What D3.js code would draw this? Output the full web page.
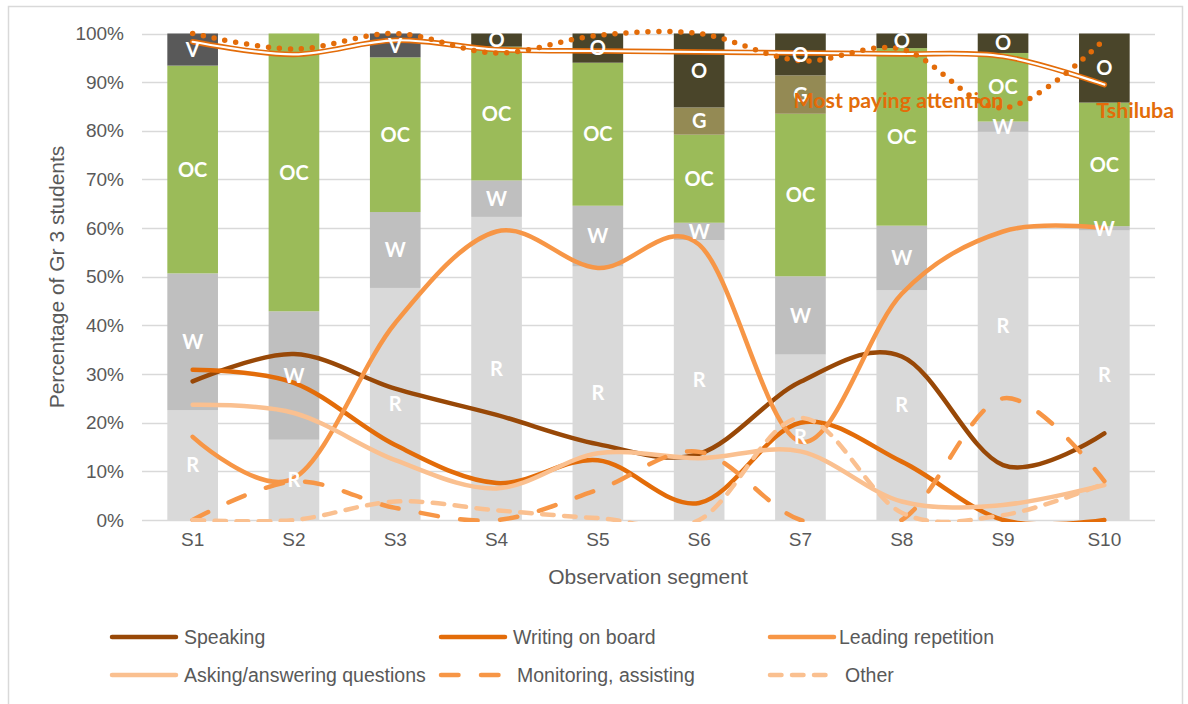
<!DOCTYPE html>
<html>
<head>
<meta charset="utf-8">
<script src="https://cdn.jsdelivr.net/npm/d3@7"></script>
<style>
  html, body { margin: 0; padding: 0; background: #fff; }
  svg { display: block; }
</style>
</head>
<body>
<svg id="chart" width="1188" height="704"></svg>
<script>
// Observation segments
const segments = ["S1", "S2", "S3", "S4", "S5", "S6", "S7", "S8", "S9", "S10"];

// Stacked bar shares (% of Gr 3 students), bottom to top
const stackKeys = ["R", "W", "OC", "G", "O", "V"];
const pctR  = [22.6, 16.5, 47.7, 62.3, 52.1, 57.5, 34.0, 47.2, 79.8, 59.5];
const pctW  = [28.1, 26.4, 15.6,  7.5, 12.5,  3.6, 16.1, 13.3,  2.1,  0.9];
const pctOC = [42.7, 57.1, 31.8, 27.5, 29.4, 18.1, 33.4, 36.5, 14.1, 25.4];
const pctG  = [ 0,    0,    0,    0,    0,    5.6,  7.9,  0,    0,    0  ];
const pctO  = [ 0,    0,    0,    2.7,  6.0, 15.2,  8.6,  3.0,  4.0, 14.2];
const pctV  = [ 6.6,  0,    4.9,  0,    0,    0,    0,    0,    0,    0  ];

// Teacher activity lines (%)
const speaking    = [28.5, 34.1, 27.0, 21.6, 15.6, 13.6, 28.4, 33.6, 11.3, 17.8];
const writing     = [30.9, 28.2, 15.4,  7.6, 12.3,  3.5, 20.0, 12.0,  0.0,  0.0];
const leading     = [17.1,  8.6, 40.5, 59.3, 51.8, 56.6, 16.1, 46.5, 59.3, 60.0];
const asking      = [23.7, 22.0, 12.3,  6.5, 13.7, 12.7, 14.1,  3.8,  3.1,  7.2];
const monitoring  = [ 0.0,  7.9,  2.5,  0.0,  6.2, 14.0,  0.0,  0.0, 25.0,  8.0];
const other       = [ 0.0,  0.0,  3.8,  2.0,  0.4,  0.0, 21.0,  1.5,  1.0,  7.5];

// Attention and language lines (%)
const payingAttention = [100, 96.8, 100, 96.0, 99.6, 100, 94.4, 96.8, 84.7, 98.8];
const tshiluba        = [98.3, 95.7, 98.6, 96.7, 96.4, 96.2, 96.0, 95.8, 95.3, 89.5];

const yTicks = [0, 10, 20, 30, 40, 50, 60, 70, 80, 90, 100];

const stackValues = { R: pctR, W: pctW, OC: pctOC, G: pctG, O: pctO, V: pctV };
const stackColors = { R: "#d9d9d9", W: "#bfbfbf", OC: "#9bbb59", G: "#948a54", O: "#4a452a", V: "#595959" };

const lineSeries = [
  { name: "Speaking", values: speaking, color: "#984807", dash: null },
  { name: "Writing on board", values: writing, color: "#e36c09", dash: null },
  { name: "Leading repetition", values: leading, color: "#f79646", dash: null },
  { name: "Asking/answering questions", values: asking, color: "#fac090", dash: null },
  { name: "Monitoring, assisting", values: monitoring, color: "#f79646", dash: "17.5 22.5" },
  { name: "Other", values: other, color: "#fac090", dash: "11.5 10.5" }
];

const svg = d3.select("#chart");
const axisFont = "'Liberation Sans', Arial, sans-serif";
const labelFont = "Lato, 'Open Sans', sans-serif";
const textGrey = "#595959";

// Chart frame
svg.append("rect")
  .attr("x", 8.5).attr("y", 6.5).attr("width", 1174).attr("height", 720)
  .attr("fill", "#fff").attr("stroke", "#d9d9d9").attr("stroke-width", 1.5);

const x = d3.scaleBand().domain(segments).range([142, 1155]).paddingInner(0.5).paddingOuter(0.25);
const y = d3.scaleLinear().domain([0, 100]).range([520, 33.5]);

// Gridlines
svg.append("g").selectAll("line").data(yTicks).join("line")
  .attr("x1", 142).attr("x2", 1155)
  .attr("y1", d => Math.round(y(d)) + 0.5).attr("y2", d => Math.round(y(d)) + 0.5)
  .attr("stroke", "#d9d9d9").attr("stroke-width", 1.5);

// Y axis labels
const yAxis = d3.axisLeft(y).tickValues(yTicks).tickFormat(d => d + "%").tickSize(0).tickPadding(0);
svg.append("g").attr("transform", "translate(124,0)").call(yAxis)
  .call(g => g.select(".domain").remove())
  .call(g => g.selectAll("text").attr("font-family", axisFont).attr("font-size", 19).attr("fill", textGrey));

// X axis labels
const xAxis = d3.axisBottom(x).tickSize(0).tickPadding(0);
svg.append("g").attr("transform", "translate(0,532)").call(xAxis)
  .call(g => g.select(".domain").remove())
  .call(g => g.selectAll("text").attr("font-family", axisFont).attr("font-size", 19).attr("fill", textGrey));

// Axis titles
svg.append("text").attr("x", 648).attr("y", 584).attr("text-anchor", "middle")
  .attr("font-family", axisFont).attr("font-size", 21).attr("fill", textGrey)
  .text("Observation segment");
svg.append("text").attr("transform", "translate(64,277) rotate(-90)").attr("text-anchor", "middle")
  .attr("font-family", axisFont).attr("font-size", 21).attr("fill", textGrey)
  .text("Percentage of Gr 3 students");

// Stacked bars
const rows = segments.map((s, i) => {
  const r = { seg: s };
  stackKeys.forEach(k => { r[k] = stackValues[k][i]; });
  return r;
});
const stacked = d3.stack().keys(stackKeys)(rows);

const barG = svg.append("g");
stacked.forEach(layer => {
  barG.append("g").selectAll("rect").data(layer).join("rect")
    .attr("x", d => x(d.data.seg))
    .attr("width", x.bandwidth())
    .attr("y", d => y(d[1]))
    .attr("height", d => Math.max(0, y(d[0]) - y(d[1])))
    .attr("fill", stackColors[layer.key]);
});

// Activity lines
const clipId = "plot-clip";
svg.append("clipPath").attr("id", clipId).append("rect")
  .attr("x", 130).attr("y", 28).attr("width", 1040).attr("height", 494);

const line = d3.line()
  .x((d, i) => x(segments[i]) + x.bandwidth() / 2)
  .y(d => y(d))
  .curve(d3.curveCardinal.tension(0));

const linesG = svg.append("g").attr("clip-path", `url(#${clipId})`);
lineSeries.forEach(s => {
  linesG.append("path").attr("d", line(s.values))
    .attr("fill", "none").attr("stroke", s.color).attr("stroke-width", 4.5)
    .attr("stroke-linecap", "round").attr("stroke-linejoin", "round")
    .attr("stroke-dasharray", s.dash);
});

// Tshiluba: double line
linesG.append("path").attr("d", line(tshiluba))
  .attr("fill", "none").attr("stroke", "#e36c09").attr("stroke-width", 5.5)
  .attr("stroke-linecap", "round");
linesG.append("path").attr("d", line(tshiluba))
  .attr("fill", "none").attr("stroke", "#fff").attr("stroke-width", 2.2)
  .attr("stroke-linecap", "round");

// Most paying attention: round dots
linesG.append("path").attr("d", line(payingAttention))
  .attr("fill", "none").attr("stroke", "#e36c09").attr("stroke-width", 5.5)
  .attr("stroke-linecap", "round").attr("stroke-dasharray", "0 11");

// Segment labels inside the bars
const labelG = svg.append("g");
stacked.forEach(layer => {
  labelG.append("g").selectAll("text").data(layer.filter(d => d[1] - d[0] > 0)).join("text")
    .attr("x", d => x(d.data.seg) + x.bandwidth() / 2)
    .attr("y", d => y((d[0] + d[1]) / 2))
    .attr("dy", "0.36em")
    .attr("text-anchor", "middle")
    .attr("font-family", labelFont).attr("font-weight", 700).attr("font-size", 20)
    .attr("fill", "#fff")
    .text(layer.key);
});

// Line labels
svg.append("text").attr("x", x("S7") + x.bandwidth() / 2 - 7).attr("y", y(86.2))
  .attr("dy", "0.36em")
  .attr("font-family", labelFont).attr("font-weight", 700).attr("font-size", 21.4)
  .attr("fill", "#e36c09").text("Most paying attention");
svg.append("text").attr("x", x("S10") + x.bandwidth() / 2 - 8).attr("y", y(84.3))
  .attr("dy", "0.36em")
  .attr("font-family", labelFont).attr("font-weight", 700).attr("font-size", 21.4)
  .attr("fill", "#e36c09").text("Tshiluba");

// Legend
const legendPos = [
  [110, 637], [439, 637], [768, 637],
  [110, 675], [439, 675], [768, 675]
];
const legendTextX = [184, 513, 839, 184, 517, 845];
const legendG = svg.append("g");
lineSeries.forEach((s, i) => {
  const [lx, ly] = legendPos[i];
  legendG.append("line")
    .attr("x1", lx + 2).attr("x2", lx + 66).attr("y1", ly).attr("y2", ly)
    .attr("stroke", s.color).attr("stroke-width", 4.5)
    .attr("stroke-linecap", "round")
    .attr("stroke-dasharray", s.dash);
  legendG.append("text").attr("x", legendTextX[i]).attr("y", ly).attr("dy", "0.35em")
    .attr("font-family", axisFont).attr("font-size", 19.5).attr("fill", textGrey)
    .text(s.name);
});
</script>
</body>
</html>
